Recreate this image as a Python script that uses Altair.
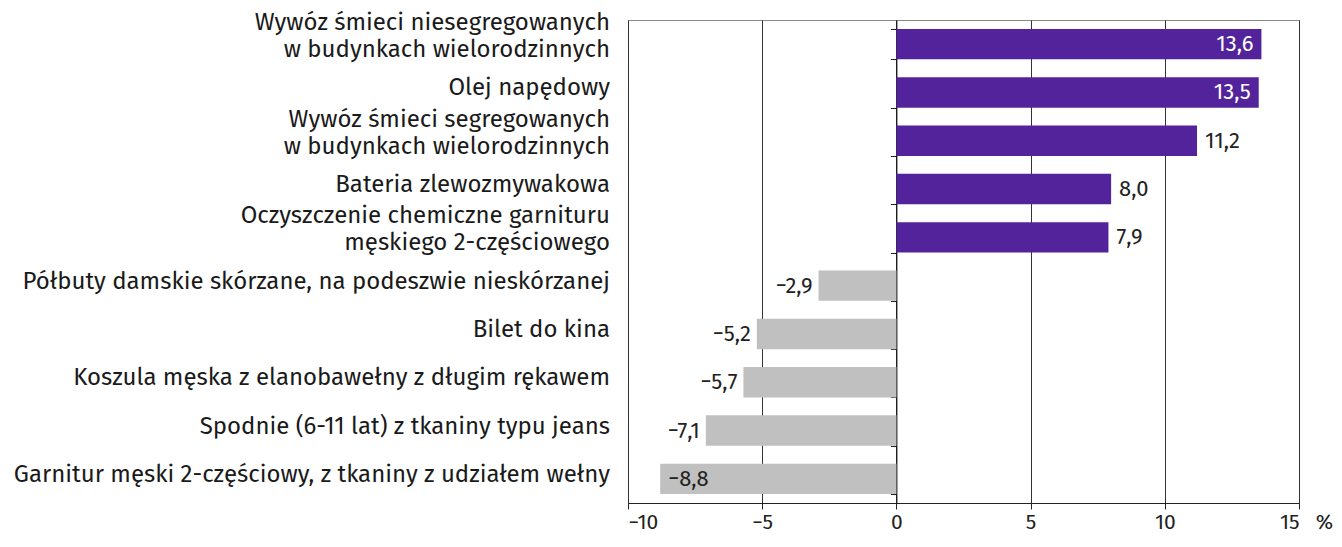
import altair as alt
import pandas as pd

categories = [
    "Wywóz śmieci niesegregowanych\nw budynkach wielorodzinnych",
    "Olej napędowy",
    "Wywóz śmieci segregowanych\nw budynkach wielorodzinnych",
    "Bateria zlewozmywakowa",
    "Oczyszczenie chemiczne garnituru\nmęskiego 2-częściowego",
    "Półbuty damskie skórzane, na podeszwie nieskórzanej",
    "Bilet do kina",
    "Koszula męska z elanobawełny z długim rękawem",
    "Spodnie (6-11 lat) z tkaniny typu jeans",
    "Garnitur męski 2-częściowy, z tkaniny z udziałem wełny",
]
values = [13.6, 13.5, 11.2, 8.0, 7.9, -2.9, -5.2, -5.7, -7.1, -8.8]
x_ticks = [-10, -5, 0, 5, 10, 15]

df = pd.DataFrame({
    "cat": categories,
    "v": values,
    "lab": [f"{v:.1f}".replace(".", ",").replace("-", "\u2212") for v in values],
    "sign": ["pos" if v >= 0 else "neg" for v in values],
})

FONT = "Fira Sans, Open Sans, sans-serif"
FS = 24
TFS = 21
VFS = 22
W, H = 671, 483

xscale = alt.Scale(domain=[-10, 15], nice=False, zero=False)
yscale = alt.Scale(domain=categories, paddingInner=0.37, paddingOuter=0.185)

base = alt.Chart(df)

bars = base.mark_bar().encode(
    x=alt.X("v:Q", scale=xscale, axis=alt.Axis(
        values=x_ticks, grid=True, gridColor="#333333", gridWidth=1,
        domainColor="#222222", tickColor="#222222", tickSize=6,
        labelFont=FONT, labelFontSize=TFS, labelColor="#222222", labelPadding=2,
        labelExpr="replace(datum.label, '-', '\u2212')",
        title="%", titleFont=FONT, titleFontSize=TFS, titleFontWeight="normal",
        titleColor="#222222", titleX=W + 25, titleY=19, titleAlign="center",
        titleBaseline="middle")),
    x2=alt.datum(0),
    y=alt.Y("cat:N", sort=None, scale=yscale, axis=alt.Axis(
        orient="left", offset=-W * 10 / 25, labels=False, title=None,
        ticks=True, tickBand="extent", tickSize=6, tickColor="#222222",
        domain=True, domainColor="#111111", grid=False)),
    color=alt.Color("sign:N", scale=alt.Scale(domain=["pos", "neg"], range=["#52239a", "#c0c0c0"]), legend=None),
)

ylab_single = base.transform_filter("indexof(datum.cat, '\\n') < 0").mark_text(
    align="right", baseline="middle", font=FONT, fontSize=FS, color="#1a1a1a", dy=-4
).encode(
    x=alt.value(-18),
    y=alt.Y("cat:N", sort=None, scale=yscale),
    text="cat:N",
)

ylab_double = base.transform_filter("indexof(datum.cat, '\\n') >= 0").mark_text(
    align="right", baseline="middle", font=FONT, fontSize=FS, color="#1a1a1a",
    lineBreak="\n", lineHeight=27, dy=-21
).encode(
    x=alt.value(-18),
    y=alt.Y("cat:N", sort=None, scale=yscale),
    text="cat:N",
)

def vlabel(filt, align, dx, color):
    return base.transform_filter(filt).mark_text(
        align=align, baseline="middle", dx=dx, font=FONT, fontSize=VFS, color=color
    ).encode(
        x=alt.X("v:Q", scale=xscale),
        y=alt.Y("cat:N", sort=None, scale=yscale),
        text="lab:N",
    )

lab_pos_in = vlabel("datum.v > 13", "right", -8, "white")
lab_pos_out = vlabel("datum.v >= 0 && datum.v <= 13", "left", 8, "#222222")
lab_neg_out = vlabel("datum.v < 0 && datum.v > -8", "right", -6, "#222222")
lab_neg_in = vlabel("datum.v <= -8", "left", 8, "#222222")

chart = alt.layer(bars, ylab_single, ylab_double, lab_pos_in, lab_pos_out, lab_neg_out, lab_neg_in).properties(
    width=W, height=H,
    autosize=alt.AutoSizeParams(type="none"),
    padding={"left": 620, "top": 12, "right": 35, "bottom": 36},
).configure_view(stroke="#888888", strokeWidth=1)

chart.save("out.html", embed_options={"renderer": "svg", "actions": False})
